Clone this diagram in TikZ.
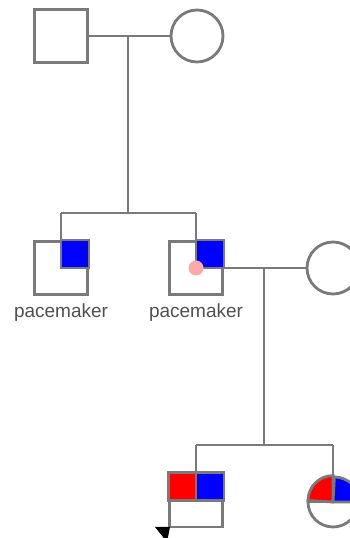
\documentclass[tikz,border=0pt]{standalone}
\usepackage{fontspec}
\setmainfont{Liberation Sans}
\definecolor{lg}{RGB}{122,122,122}
\definecolor{tg}{RGB}{80,80,80}
\definecolor{pdot}{RGB}{250,170,170}
\begin{document}
\begin{tikzpicture}[x=1pt,y=1pt,
  ln/.style={draw=lg,line width=2.8pt},
  male/.style={ln,rectangle,minimum size=53pt,inner sep=0pt,fill=white},
  female/.style={ln,circle,minimum size=52pt,inner sep=0pt,fill=white},
  female2/.style={ln,circle,minimum size=50pt,inner sep=0pt,fill=white},
  lab/.style={text=tg,anchor=base,font=\fontsize{19}{19}\selectfont,inner sep=0pt}]
\useasboundingbox (0,0) rectangle (350,538);
\clip (0,0) rectangle (350,538);
% generation I
\node[male] (f) at (61,502) {};
\node[female] (m) at (197,502) {};
\draw[ln] (f.east) -- (m.west);
\coordinate (u1) at (128,502);
\coordinate (s1) at (128,325);
\draw[ln] (u1) -- (s1);
% generation II
\node[male] (c1) at (61,270) {};
\node[male] (c2) at (196,270) {};
\draw[ln] (c1 |- s1) -- (c2 |- s1);
\draw[ln] (c1 |- s1) -- (c1.north);
\draw[ln] (c2 |- s1) -- (c2.north);
\filldraw[ln,fill=blue] (c1.center) rectangle (c1.north east);
\filldraw[ln,fill=blue] (c2.center) rectangle (c2.north east);
\fill[pdot] (c2.center) circle[radius=7.5];
\node[lab] (l1) at (61,220) {pacemaker};
\node[lab] (l2) at (196,220) {pacemaker};
\node[female] (w) at (333,270) {};
\draw[ln] (c2.east) -- (w.west);
\coordinate (u2) at (264,270);
\coordinate (s2) at (264,93);
\draw[ln] (u2) -- (s2);
% generation III
\node[male] (g1) at (196,37.5) {};
\node[female2] (g2) at (333,36) {};
\draw[ln] (g1 |- s2) -- (g2 |- s2);
\draw[ln] (g1 |- s2) -- (g1.north);
\draw[ln] (g2 |- s2) -- (g2.north);
\filldraw[ln,fill=red] (g1.center) rectangle (g1.north west);
\filldraw[ln,fill=blue] (g1.center) rectangle (g1.north east);
\draw[ln] (g1.west) -- (g1.east);
\filldraw[ln,fill=red] (g2.center) -- (g2.north) arc[start angle=90,end angle=180,radius=25] -- cycle;
\filldraw[ln,fill=blue] (g2.center) -- (g2.east) arc[start angle=0,end angle=90,radius=25] -- cycle;
\draw[ln] (g2.west) -- (g2.east);
\coordinate (p1) at (155,11);
\coordinate (p2) at (170,11);
\coordinate (p3) at (167,-4);
\fill[black] (p1) -- (p2) -- (p3) -- cycle;
\end{tikzpicture}
\end{document}
